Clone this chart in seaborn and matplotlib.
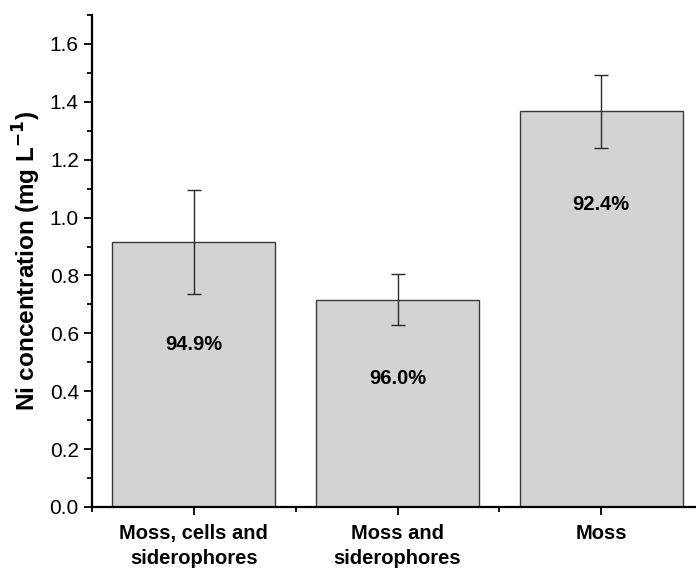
import pandas as pd
import numpy as np
import matplotlib
matplotlib.use("Agg")
import matplotlib.pyplot as plt
import seaborn as sns
from matplotlib.ticker import MultipleLocator

groups = ['Moss, cells and\nsiderophores', 'Moss and\nsiderophores', 'Moss']
ni_conc = [0.917, 0.716, 1.367]
ni_sd = [0.180, 0.088, 0.125]
removal = ['94.9%', '96.0%', '92.4%']
label_y = [0.56, 0.445, 1.045]

df = pd.DataFrame({'group': groups, 'conc': ni_conc, 'sd': ni_sd})

sns.set_style('ticks')
plt.rcParams['font.family'] = ['Liberation Sans', 'DejaVu Sans']
plt.rcParams['text.color'] = 'black'
plt.rcParams['axes.labelcolor'] = 'black'
plt.rcParams['xtick.color'] = 'black'
plt.rcParams['ytick.color'] = 'black'

fig = plt.figure(figsize=(6.96, 5.70), dpi=100)
ax = fig.add_axes([92 / 696, 63 / 570, 611 / 696, 492 / 570])

sns.barplot(data=df, x='group', y='conc', color='#d3d3d3', edgecolor='#3a3a3a',
            linewidth=1.0, width=0.8, errorbar=None, saturation=1, ax=ax)
ax.errorbar(np.arange(len(groups)), df['conc'], yerr=df['sd'], fmt='none',
            ecolor='#2a2a2a', elinewidth=1.0, capsize=5, capthick=1.0)

for i, (txt, yy) in enumerate(zip(removal, label_y)):
    ax.text(i, yy, txt, ha='center', va='center', fontsize=14.5, fontweight='bold')

ax.set_xlim(-0.5, 2.5)
ax.set_ylim(0, 1.7)
ax.yaxis.set_major_locator(MultipleLocator(0.2))
ax.yaxis.set_minor_locator(MultipleLocator(0.1))
ax.set_xticks([-0.5, 0.5, 1.5, 2.5], minor=True)
ax.yaxis.set_major_formatter(plt.FormatStrFormatter('%.1f'))

ax.tick_params(axis='both', which='major', direction='out', length=6, width=1.3,
               labelsize=15)
ax.tick_params(axis='both', which='minor', direction='out', length=3.5, width=1.3)
ax.tick_params(axis='x', labelsize=14.5, pad=6)
for lbl in ax.get_xticklabels():
    lbl.set_fontweight('bold')
    lbl.set_linespacing(1.4)

ax.set_xlabel('')
ax.set_ylabel('Ni concentration (mg L$^{\\mathbf{-1}}$)', fontsize=17.5, fontweight='bold', labelpad=5)

sns.despine(ax=ax)
for s in ['left', 'bottom']:
    ax.spines[s].set_linewidth(1.6)
    ax.spines[s].set_color('black')

fig.savefig('out.png', dpi=100)
